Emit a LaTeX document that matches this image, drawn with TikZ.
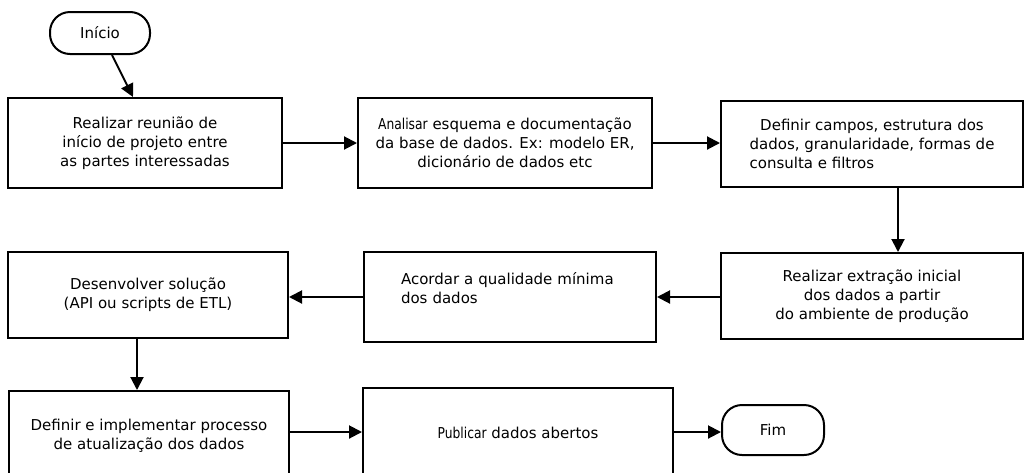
\documentclass[tikz,border=0pt]{standalone}
\usepackage{fontspec}
\setmainfont{DejaVu Sans}
\newfontfamily\narrowfont[FakeStretch=0.82]{DejaVu Sans}
\usetikzlibrary{shapes,arrows,positioning,fit,arrows.meta}
\usepackage{xcolor}

\begin{document}
\begin{tikzpicture}[x=1pt,y=-1pt,
        box/.style={draw,line width=2pt,align=center,inner sep=2pt,font=\fontsize{15}{19}\selectfont},
        term/.style={box,rounded corners=20pt},
        flow/.style={line width=2pt,-{Triangle[length=13pt,width=13pt]}}]
        % Fix the page size
        \useasboundingbox (0,0) rectangle (1024,472);
        % Draw start and end
        \node[term,minimum width=100pt,minimum height=42pt] (inicio) at (100,33) {Início};
        \node[term,minimum width=102pt,minimum height=50pt] (fim) at (773,430) {Fim};
        % Draw first row
        \node[box,minimum width=274pt,minimum height=90pt] (reuniao) at (145,143) {Realizar reunião de\\início de projeto entre\\as partes interessadas};
        \node[box,minimum width=294pt,minimum height=90pt] (analisar) at (505,143) {{\narrowfont Analisar} esquema e documentação\\da base de dados. Ex: modelo ER,\\dicionário de dados etc};
        \node[box,minimum width=302pt,minimum height=86pt] (campos) at (872,144) {Definir campos, estrutura dos\\dados, granularidade, formas de\\\rlap{consulta e filtros}\hphantom{dados, granularidade, formas de}};
        % Draw second row
        \node[box,minimum width=302pt,minimum height=86pt] (extracao) at (872,296) {Realizar extração inicial\\dos dados a partir\\do ambiente de produção};
        \node[box,minimum width=292pt,minimum height=90pt,align=left,text width=218pt] (qualidade) at (510,297) {Acordar a qualidade mínima\\dos dados\\\mbox{}};
        \node[box,minimum width=280pt,minimum height=86pt] (solucao) at (148,295) {Desenvolver solução\\(API ou scripts de ETL)};
        % Draw third row
        \node[box,minimum width=280pt,minimum height=90pt] (atualizacao) at (149,436) {Definir e implementar processo\\de atualização dos dados};
        \node[box,minimum width=310pt,minimum height=90pt] (publicar) at (518,433) {{\narrowfont Publicar} dados abertos};
        % Draw arrows
        \draw[flow] ([xshift=12pt]inicio.south) -- ([xshift=-12pt]reuniao.north);
        \draw[flow] (reuniao.east) -- (reuniao.east -| analisar.west);
        \draw[flow] (analisar.east) -- (analisar.east -| campos.west);
        \draw[flow] ([xshift=26pt]campos.south) -- ([xshift=26pt]campos.south |- extracao.north);
        \draw[flow] ([yshift=-1pt]extracao.west) -- ([yshift=-1pt]extracao.west -| qualidade.east);
        \draw[flow] (qualidade.west) -- (qualidade.west -| solucao.east);
        \draw[flow] ([xshift=-11pt]solucao.south) -- ([xshift=-11pt]solucao.south |- atualizacao.north);
        \draw[flow] ([yshift=4pt]atualizacao.east) -- ([yshift=4pt]atualizacao.east -| publicar.west);
        \draw[flow] ([yshift=1pt]publicar.east) -- ([yshift=1pt]publicar.east -| fim.west);
    \end{tikzpicture}
\end{document}
